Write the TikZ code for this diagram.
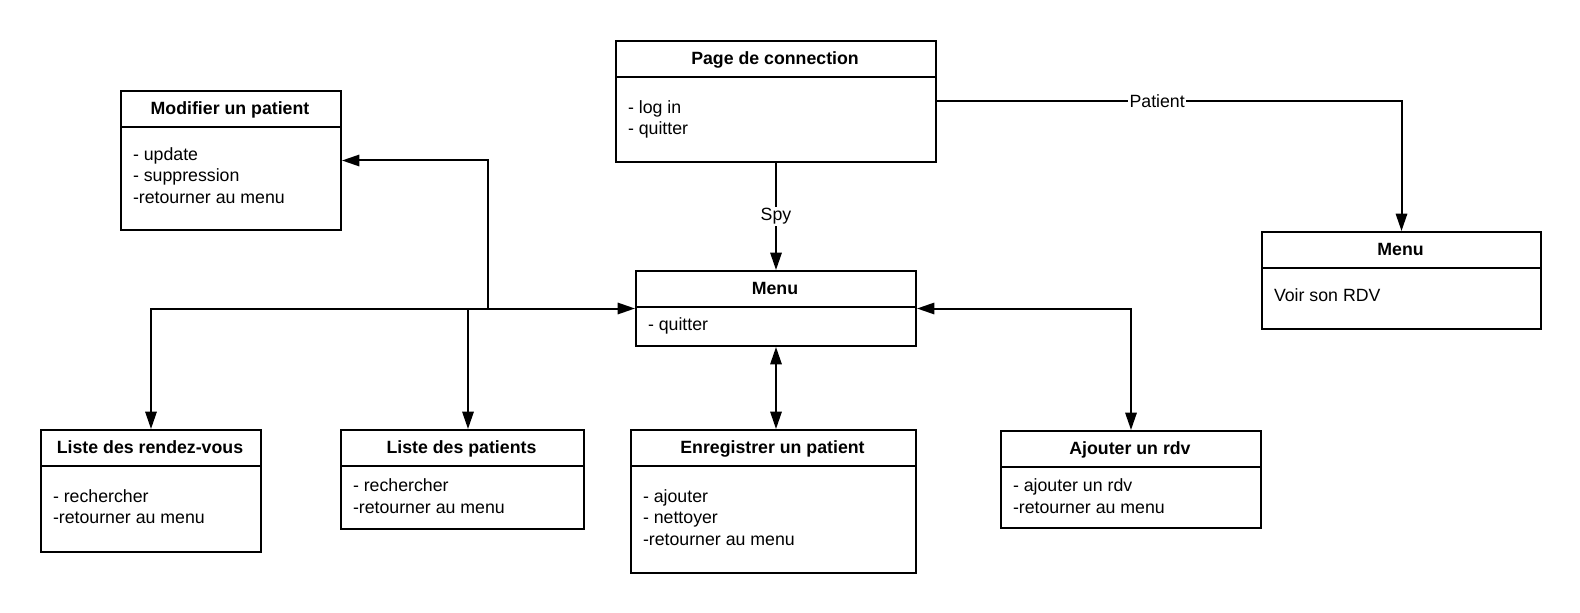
\documentclass[tikz,border=0pt]{standalone}
\usepackage{fontspec}
\setmainfont{Liberation Sans}
\usetikzlibrary{arrows.meta}

\begin{document}
\begin{tikzpicture}[x=0.75pt, y=-0.75pt, line width=1.5pt,
  >={Triangle[length=13pt,width=8.5pt]},
  box/.style={shape=rectangle, draw=black, anchor=north west, inner sep=0pt},
  title/.style={anchor=base, inner sep=0pt, font=\fontsize{13.3}{16.4}\selectfont\bfseries},
  body/.style={anchor=north west, inner sep=0pt, align=left, font=\fontsize{13.3}{16.4}\selectfont, execute at begin node=\strut},
  lbl/.style={fill=white, inner sep=1pt, font=\fontsize{13.3}{16.4}\selectfont}]
%%%%%%%%%%%%%%%%%%%%%%%%%%%%%%%%%%%%%%%%%%% HELP LINES
%\draw[help lines] (0,0) grid +(1580,613);
\useasboundingbox (0,0) rectangle (1580,613);

%%%%%%%%%%%%%%%%%%%%%%%%%%%%%%%%%%%%%%%%%%% elements
\node[box, minimum width=240pt, minimum height=90.75pt](pc) at (615,40){};
\draw ([yshift=-27.75pt]pc.north west) -- ([yshift=-27.75pt]pc.north east);
\node[title] at (775,64.5){Page de connection};
\node[body] at (627,99.2){- log in\\- quitter};

\node[box, minimum width=165pt, minimum height=104.25pt](mod) at (120,90){};
\draw ([yshift=-27.75pt]mod.north west) -- ([yshift=-27.75pt]mod.north east);
\node[title] at (230,114.5){Modifier un patient};
\node[body] at (132,146.2){- update\\- suppression\\-retourner au menu};

\node[box, minimum width=210pt, minimum height=56.25pt](menu) at (635,270){};
\draw ([yshift=-27.75pt]menu.north west) -- ([yshift=-27.75pt]menu.north east);
\node[title] at (775,294.5){Menu};
\node[body] at (647,313.7){- quitter};

\node[box, minimum width=209.25pt, minimum height=72.75pt](menuP) at (1261,231){};
\draw ([yshift=-27.75pt]menuP.north west) -- ([yshift=-27.75pt]menuP.north east);
\node[title] at (1400.5,255.5){Menu};
\node[body] at (1273,285.2){Voir son RDV};

\node[box, minimum width=165pt, minimum height=91.5pt](lrdv) at (40,429){};
\draw ([yshift=-27.75pt]lrdv.north west) -- ([yshift=-27.75pt]lrdv.north east);
\node[title] at (150,453.5){Liste des rendez-vous};
\node[body] at (52,488.2){- rechercher\\-retourner au menu};

\node[box, minimum width=182.25pt, minimum height=74.25pt](lpat) at (340,429){};
\draw ([yshift=-27.75pt]lpat.north west) -- ([yshift=-27.75pt]lpat.north east);
\node[title] at (461.5,453.5){Liste des patients};
\node[body] at (352,477.7){- rechercher\\-retourner au menu};

\node[box, minimum width=213.75pt, minimum height=107.25pt](enr) at (630,429){};
\draw ([yshift=-27.75pt]enr.north west) -- ([yshift=-27.75pt]enr.north east);
\node[title] at (772.5,453.5){Enregistrer un patient};
\node[body] at (642,488.2){- ajouter\\- nettoyer\\-retourner au menu};

\node[box, minimum width=195pt, minimum height=72.75pt](ajt) at (1000,430){};
\draw ([yshift=-27.75pt]ajt.north west) -- ([yshift=-27.75pt]ajt.north east);
\node[title] at (1130,454.5){Ajouter un rdv};
\node[body] at (1012,477.7){- ajouter un rdv\\-retourner au menu};

%%%%% connectors
\draw[->] (pc.south) -- node[lbl]{Spy} (menu.north);
\draw[->] (pc.east) -| node[lbl, pos=0.237]{Patient} (menuP.north);

\coordinate (bpat) at (menu.west -| 468,0);
\coordinate (bmod) at (menu.west -| 488,0);
\draw[<->] (menu.west) -| (lrdv.north);
\draw[->] (bpat) -- (bpat |- lpat.north);
\draw[->] (bmod) |- (mod.east);
\draw[<->] (menu.south) -- (menu.south |- enr.north);
\draw[<->] (menu.east) -| (ajt.north);
\end{tikzpicture}
\end{document}
